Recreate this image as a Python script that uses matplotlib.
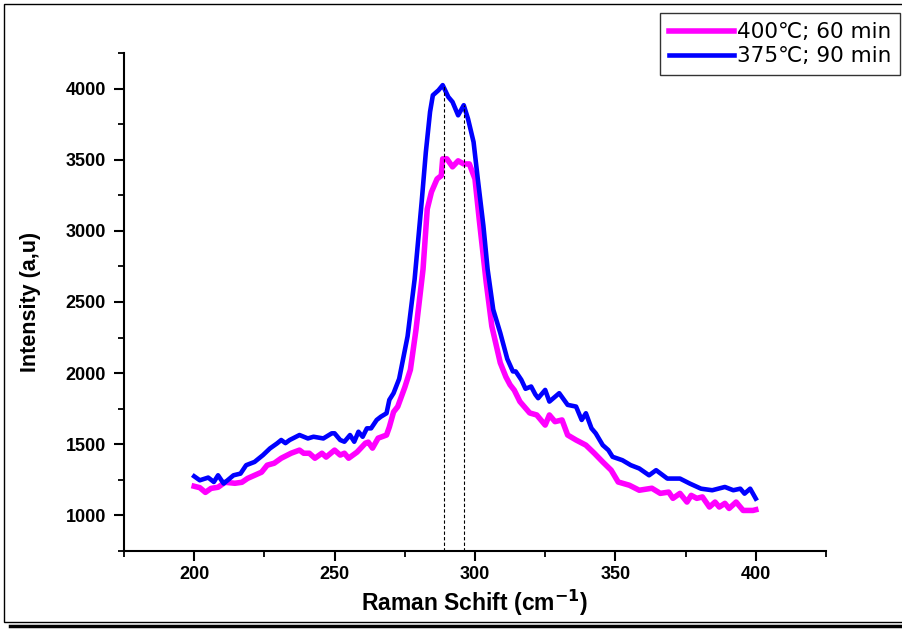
import numpy as np
import matplotlib
matplotlib.use("Agg")
from matplotlib import pyplot as plt
from matplotlib.ticker import MultipleLocator
from matplotlib.patches import Rectangle
from matplotlib.lines import Line2D

plt.rcParams["font.family"] = ["Liberation Sans", "DejaVu Sans"]

# 400C; 60 min
shift_400 = [200, 202, 204, 206, 208.5, 211, 214.5, 217, 219, 221.5, 224, 226, 228.5, 231,
             234.5, 237.5, 239, 241, 243, 245.5, 247, 250, 252, 253.5, 255, 258, 261, 262,
             263.5, 265.5, 268.5, 269.5, 271, 272.5, 275, 277, 279, 281.5, 283, 284.5, 286.5,
             288, 288.5, 290, 292, 294, 296, 298, 300, 301.5, 304, 306, 309, 311, 312.5, 314,
             316, 319.5, 322, 325, 326.5, 328.5, 331, 333, 336, 339.5, 342.5, 345.5, 348.5,
             351, 355, 358.5, 363, 366, 369, 370.5, 373, 375.5, 377, 379, 381, 383.5, 385.5,
             387, 389, 390.5, 393, 395.5, 399, 400]
int_400 = [1205, 1195, 1162, 1190, 1198, 1233, 1226, 1233, 1260, 1282, 1304, 1353, 1367, 1402,
           1437, 1459, 1437, 1437, 1402, 1437, 1410, 1459, 1424, 1437, 1402, 1445, 1508, 1515,
           1473, 1543, 1565, 1621, 1727, 1765, 1900, 2024, 2306, 2730, 3153, 3273, 3365,
           3388, 3506, 3506, 3450, 3492, 3470, 3470, 3365, 3083, 2638, 2330, 2073, 1974, 1918, 1880,
           1800, 1720, 1706, 1635, 1706, 1659, 1671, 1565, 1530, 1494, 1437, 1376, 1318,
           1235, 1212, 1177, 1191, 1155, 1164, 1120, 1155, 1094, 1141, 1120, 1130, 1059, 1094,
           1059, 1085, 1049, 1094, 1035, 1035, 1040]

# 375C; 90 min
shift_375 = [200, 202, 205, 207, 208.5, 210.5, 214, 216.5, 218.5, 221.5, 224.5, 227, 229.5, 231,
             232.5, 234, 237.5, 240.5, 242.5, 246, 249, 250, 252, 253.5, 255.5, 257, 258.5, 260,
             261.5, 263, 265, 266.5, 268.5, 269.5, 271, 273, 276, 278.5, 281, 282.5, 284, 285,
             287, 288.5, 290.5, 292, 294, 296, 297.5, 299.5, 301, 303, 304.5, 306.5, 309, 311.5,
             313.5, 314.5, 316.5, 318, 320, 321.5, 322.5, 325, 326.5, 330, 333, 336, 338, 339.5,
             341.5, 343, 345.5, 347.5, 349, 352.5, 355.5, 358.5, 362, 364.5, 368.5, 373, 376.5,
             380.5, 384.5, 389, 392, 394.5, 396, 398, 400]
int_375 = [1275, 1247, 1266, 1235, 1282, 1224, 1282, 1294, 1353, 1376, 1424, 1471, 1506, 1530,
           1508, 1530, 1565, 1541, 1553, 1541, 1577, 1577, 1530, 1518, 1565, 1518, 1588, 1553,
           1612, 1612, 1671, 1694, 1718, 1812, 1859, 1960, 2259, 2659, 3200, 3553, 3836, 3953,
           3988, 4024, 3941, 3906, 3812, 3883, 3789, 3624, 3365, 3035, 2730, 2447, 2283, 2100,
           2012, 2012, 1953, 1890, 1906, 1850, 1824, 1882, 1800, 1859, 1777, 1765, 1671, 1718,
           1612, 1577, 1494, 1459, 1412, 1388, 1353, 1330, 1282, 1318, 1259, 1259, 1224,
           1188, 1177, 1200, 1177, 1188, 1153, 1188, 1118]

# dashed peak markers
peak_pos = [289, 296]
peak_top = [4024, 3883]

labels = ["400\u2103; 60 min", "375\u2103; 90 min"]

fig = plt.figure(figsize=(9.03, 6.30), dpi=100)
ax = fig.add_axes([0.1373, 0.1254, 0.7774, 0.7905])

ax.plot(shift_400, int_400, color="#ff00ff", lw=4.0, solid_joinstyle="round")
ax.plot(shift_375, int_375, color="#0000ff", lw=3.3, solid_joinstyle="round")
ax.vlines(peak_pos, 750, peak_top, colors="black", linestyles=(0, (3, 2)), lw=0.8)

ax.set_xlim(175, 425)
ax.set_ylim(750, 4250)
ax.xaxis.set_major_locator(MultipleLocator(50))
ax.xaxis.set_minor_locator(MultipleLocator(25))
ax.yaxis.set_major_locator(MultipleLocator(500))
ax.yaxis.set_minor_locator(MultipleLocator(250))
ax.set_yticks([1000, 1500, 2000, 2500, 3000, 3500, 4000])

for s in ["top", "right"]:
    ax.spines[s].set_visible(False)
for s in ["left", "bottom"]:
    ax.spines[s].set_linewidth(1.5)
ax.tick_params(which="major", direction="out", length=7.5, width=1.5, labelsize=13)
ax.tick_params(which="minor", direction="out", length=4.5, width=1.3)
ax.tick_params(axis="x", which="major", pad=3)
ax.tick_params(axis="y", which="major", pad=5.5)
for t in ax.get_xticklabels() + ax.get_yticklabels():
    t.set_fontweight("bold")

ax.set_xlabel("Raman Schift (cm$^{\\mathbf{-1}}$)", fontsize=16.5, fontweight="bold", labelpad=4)
ax.set_ylabel("Intensity (a,u)", fontsize=15.5, fontweight="bold", labelpad=18)

handles = [Line2D([], [], color="#ff00ff", lw=4.0), Line2D([], [], color="#0000ff", lw=3.3)]
fig.legend(handles, labels, loc="upper right", bbox_to_anchor=(900 / 903, 1 - 13 / 630),
           prop={"family": "DejaVu Sans", "size": 15.5}, frameon=True, fancybox=False,
           edgecolor="black", handlelength=3.0, handletextpad=0.12, borderpad=0.42,
           labelspacing=0.2, borderaxespad=0.0)
leg = fig.legends[0]
leg.get_frame().set_linewidth(1.0)

# outer frame with shadow line at the bottom
fig.add_artist(Rectangle((4 / 903, 8 / 630), 899 / 903, 618 / 630, transform=fig.transFigure,
                         fill=False, edgecolor="black", lw=1.0))
fig.add_artist(Line2D([10 / 903, 1.0], [4 / 630, 4 / 630], transform=fig.transFigure,
                      color="black", lw=2.5))

fig.savefig("out.png", dpi=100)
